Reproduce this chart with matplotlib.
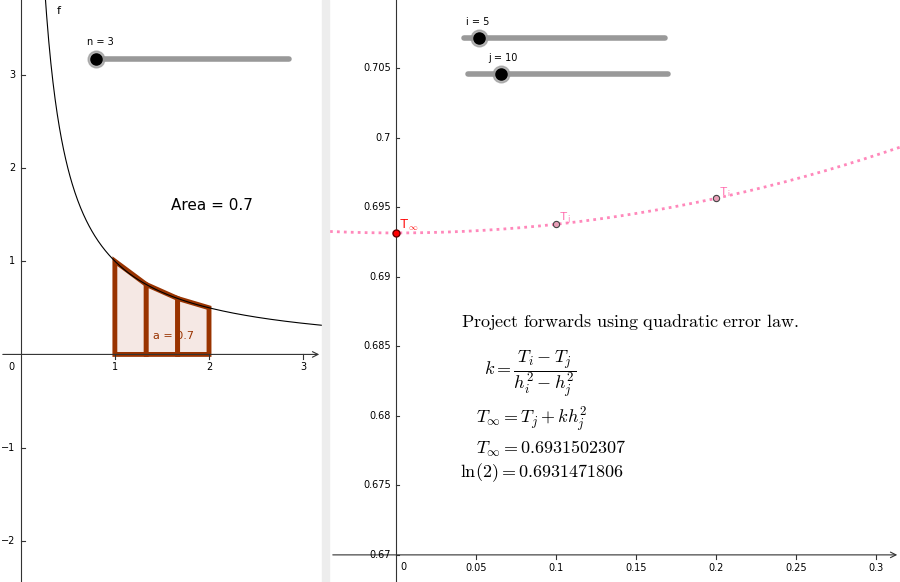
import numpy as np
import matplotlib
matplotlib.use("Agg")
import matplotlib.pyplot as plt
from matplotlib.patches import Polygon

plt.rcParams['mathtext.fontset'] = 'cm'

# data
n_sub = 3
a_lim, b_lim = 1.0, 2.0
area_value = 0.7
h_vals = [0.0, 0.1, 0.2]
T_vals = [0.6931502307, 0.693771, 0.695635]
T_labels = [r"$\mathsf{T}_\infty$", r"$\mathsf{T}_\mathsf{j}$", r"$\mathsf{T}_\mathsf{i}$"]
left_xticks = [1, 2, 3]
left_yticks = [-2, -1, 1, 2, 3]
right_xticks = [0.05, 0.1, 0.15, 0.2, 0.25, 0.3]
right_yticks = [0.67, 0.675, 0.68, 0.685, 0.69, 0.695, 0.7, 0.705]

fig = plt.figure(figsize=(9, 5.82), dpi=100)

# ---------- left panel ----------
ax = fig.add_axes([0, 0, 322/900, 1])
ax.set_xlim(-0.22, 3.2)
ax.set_ylim(-2.44, 3.8)
for s in ax.spines.values():
    s.set_visible(False)
ax.set_xticks([]); ax.set_yticks([])
ax.annotate('', xy=(3.2, 0), xytext=(-0.22, 0), arrowprops=dict(arrowstyle='->', lw=0.8, color='#333'))
ax.plot([0, 0], [-2.44, 3.8], color='#333', lw=0.8)
for t in left_xticks:
    ax.plot([t, t], [0, -0.05], color='#333', lw=0.8)
    ax.text(t, -0.08, str(t), ha='center', va='top', fontsize=7)
ax.text(-0.1, -0.08, '0', ha='center', va='top', fontsize=7)
for t in left_yticks:
    ax.plot([0, 0.05], [t, t], color='#333', lw=0.8)
    ax.text(-0.06, t, '\u2212%d' % -t if t < 0 else str(t), ha='right', va='center', fontsize=7)
xs = np.linspace(0.2, 3.2, 400)
ax.plot(xs, 1/xs, color='black', lw=0.8)
ax.text(0.38, 3.65, 'f', fontsize=8)
edges = np.linspace(a_lim, b_lim, n_sub + 1)
for i in range(n_sub):
    x0, x1 = edges[i], edges[i+1]
    poly = Polygon([(x0, 0), (x0, 1/x0), (x1, 1/x1), (x1, 0)], closed=True,
                   facecolor='#f5e8e4', edgecolor='#993300', lw=3.5, joinstyle='miter')
    ax.add_patch(poly)
ax.text(1.4, 0.17, 'a = %.1f' % area_value, color='#993300', fontsize=8)
ax.text(1.6, 1.55, 'Area = %.1f' % area_value, fontsize=11)
# slider n
ax.plot([0.8, 2.85], [3.17, 3.17], color='#999', lw=4, solid_capstyle='round')
ax.plot(0.8, 3.17, 'o', ms=12, color='#999', alpha=0.7)
ax.plot(0.8, 3.17, 'o', ms=8, color='black')
ax.text(0.7, 3.32, 'n = %d' % n_sub, fontsize=7)

# divider
fig.patches.append(plt.Rectangle((322/900, 0), 7/900, 1, transform=fig.transFigure,
                                 color='#ededed'))

# ---------- right panel ----------
ar = fig.add_axes([330/900, 0, 570/900, 1])
ar.set_xlim(-0.041, 0.315)
ar.set_ylim(0.66805, 0.7099)
for s in ar.spines.values():
    s.set_visible(False)
ar.set_xticks([]); ar.set_yticks([])
ar.annotate('', xy=(0.315, 0.67), xytext=(-0.041, 0.67), arrowprops=dict(arrowstyle='->', lw=0.8, color='#333'))
ar.plot([0, 0], [0.66805, 0.7099], color='#333', lw=0.8)
ar.text(0.003, 0.6695, '0', ha='left', va='top', fontsize=7)
for t in right_xticks:
    ar.plot([t, t], [0.67, 0.6697], color='#333', lw=0.8)
    ar.text(t, 0.6694, '%g' % t, ha='center', va='top', fontsize=7)
for t in right_yticks:
    ar.plot([0, 0.002], [t, t], color='#333', lw=0.8)
    ar.text(-0.003, t, '%g' % t, ha='right', va='center', fontsize=7)
k = (T_vals[2] - T_vals[1]) / (h_vals[2]**2 - h_vals[1]**2)
hs = np.linspace(-0.041, 0.315, 300)
ar.plot(hs, T_vals[0] + k*hs**2, ls=(0, (1, 1.5)), color='#ff88bb', lw=2)
ar.plot(h_vals[0], T_vals[0], 'o', ms=5, mfc='red', mec='#660000')
ar.plot(h_vals[1:], T_vals[1:], 'o', ms=4.5, mfc='#e8a0b8', mec='#444', mew=0.8)
ar.text(0.002, T_vals[0]+0.0003, T_labels[0], color='red', fontsize=9)
for h, T, lab in zip(h_vals[1:], T_vals[1:], T_labels[1:]):
    ar.text(h+0.002, T+0.0002, lab, color='#ff66aa', fontsize=8)
ar.text(0.041, 0.6864, r"$\mathrm{Project\ forwards\ using\ quadratic\ error\ law.}$", fontsize=13)
ar.text(0.055, 0.68306, r"$k = \dfrac{T_i - T_j}{h_i^2 - h_j^2}$", fontsize=13, va='center')
ar.text(0.05, 0.67974, r"$T_\infty = T_j + k h_j^2$", fontsize=13, va='center')
ar.text(0.05, 0.67765, r"$T_\infty = %.10f$" % T_vals[0], fontsize=13, va='center')
ar.text(0.04, 0.67592, r"$\ln(2) = %.10f$" % np.log(2), fontsize=13, va='center')
# sliders i, j
for (x0, y, lab, kx) in [(0.043, 0.7072, 'i = 5', 0.052), (0.045, 0.7046, 'j = 10', 0.066)]:
    ar.plot([x0, x0+0.125], [y, y], color='#999', lw=4, solid_capstyle='round')
    ar.plot(kx, y, 'o', ms=12, color='#999', alpha=0.7)
    ar.plot(kx, y, 'o', ms=8, color='black')
    ar.text(kx - 0.008, y + 0.0009, lab, fontsize=7)

fig.savefig('out.png', dpi=100)
